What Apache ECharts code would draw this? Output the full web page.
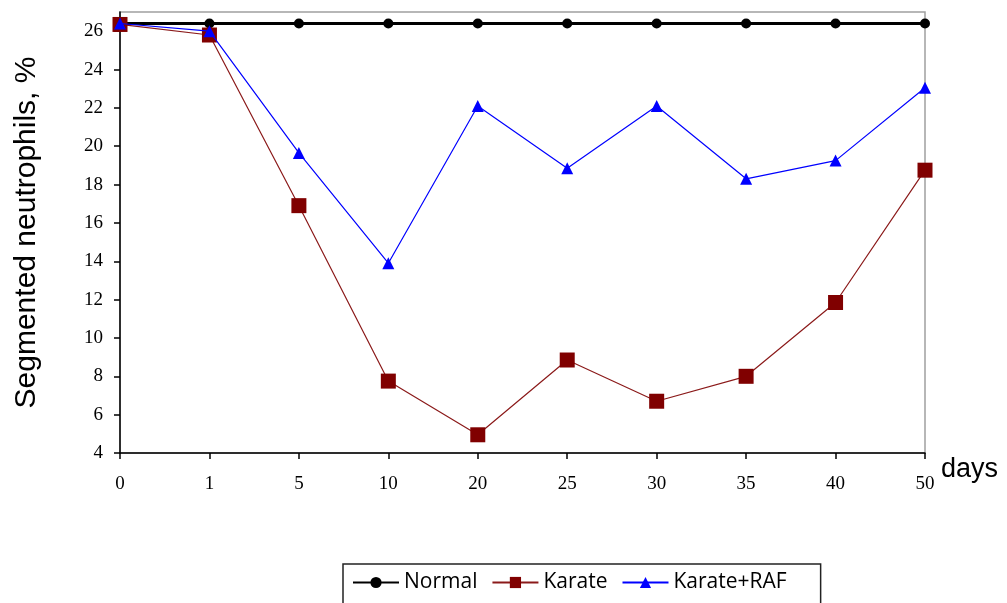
<!DOCTYPE html>
<html>
<head>
<meta charset="utf-8">
<script src="https://cdn.jsdelivr.net/npm/echarts@6/dist/echarts.min.js"></script>
<style>html,body{margin:0;padding:0;background:#fff}#c{width:1007px;height:603px}</style>
</head>
<body>
<div id="c"></div>
<script>
var categories = ['0','1','5','10','20','25','30','35','40','50'];
var normal = [26.4,26.4,26.4,26.4,26.4,26.4,26.4,26.4,26.4,26.4];
var karate = [26.35,25.8,16.9,7.75,4.95,8.85,6.7,8.0,11.85,18.75];
var karateRaf = [26.4,26.0,19.65,13.9,22.1,18.85,22.1,18.3,19.25,23.05];
var yTicks = [4,6,8,10,12,14,16,18,20,22,24,26];

var chart = echarts.init(document.getElementById('c'), null, {renderer:'canvas'});
chart.setOption({
  animation:false,
  backgroundColor:'#fff',
  grid:{left:120,right:82,top:12,bottom:150,show:true,borderColor:'#a0a0a0',borderWidth:1.5,containLabel:false},
  legend:{
    left:343, top:564,
    padding:[8,34,20,9],
    borderColor:'#222', borderWidth:1.5,
    itemWidth:46, itemHeight:14, itemGap:14,
    textStyle:{fontFamily:'Open Sans',fontSize:21,color:'#000'},
    data:['Normal','Karate','Karate+RAF']
  },
  xAxis:{
    type:'category', data:categories, boundaryGap:false,
    axisLine:{lineStyle:{color:'#000',width:1.5}},
    axisTick:{show:true,length:6,alignWithLabel:true,lineStyle:{color:'#000',width:1.5}},
    axisLabel:{margin:22,fontFamily:'Liberation Serif',fontSize:19,color:'#000'},
    splitLine:{show:false},
    name:'days', nameLocation:'end', nameGap:16,
    nameTextStyle:{fontFamily:'Liberation Sans',fontSize:27,color:'#000',verticalAlign:'top',padding:[3,0,0,0]}
  },
  yAxis:{
    type:'value', min:4, max:27, interval:2,
    axisLine:{show:true,lineStyle:{color:'#000',width:1.5}},
    axisTick:{show:true,length:6,customValues:yTicks,lineStyle:{color:'#000',width:1.5}},
    axisLabel:{margin:17,fontFamily:'Liberation Serif',fontSize:19,color:'#000',customValues:yTicks},
    splitLine:{show:false},
    name:'Segmented neutrophils, %', nameLocation:'middle', nameGap:78, nameRotate:90,
    nameTextStyle:{fontFamily:'Liberation Sans',fontSize:30,color:'#000'}
  },
  series:[
    {name:'Normal',type:'line',data:normal,symbol:'circle',symbolSize:10,
     lineStyle:{color:'#000',width:3},itemStyle:{color:'#000'},z:2},
    {name:'Karate',type:'line',data:karate,symbol:'rect',symbolSize:15,
     lineStyle:{color:'#8b1a1a',width:1.2},itemStyle:{color:'#800000'},z:3},
    {name:'Karate+RAF',type:'line',data:karateRaf,symbol:'triangle',symbolSize:12,
     lineStyle:{color:'#0000ff',width:1.2},itemStyle:{color:'#0000ff'},z:4}
  ]
});
</script>
</body>
</html>
